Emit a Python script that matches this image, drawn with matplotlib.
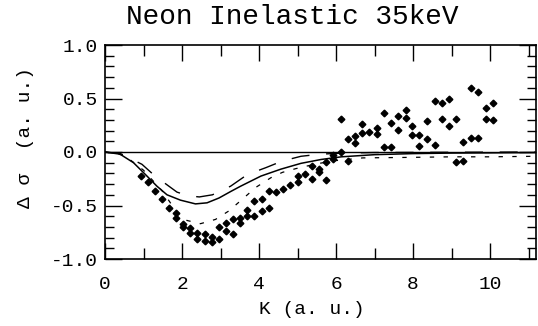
import matplotlib
matplotlib.use("Agg")
import matplotlib.pyplot as plt
from matplotlib.ticker import MultipleLocator

# measured cross section points (K in a.u., delta sigma in a.u.)
k_data = [0.93, 1.11, 1.29, 1.48, 1.66,
          1.85, 1.85, 2.03, 2.03, 2.22, 2.22, 2.40, 2.40, 2.59, 2.59,
          2.77, 2.77, 2.96, 2.96, 3.14, 3.14, 3.33, 3.33, 3.51, 3.51,
          3.70, 3.70, 3.88, 3.88, 4.07, 4.07, 4.25, 4.25, 4.44, 4.62,
          4.81, 5.00, 5.00, 5.19, 5.37, 5.37, 5.56, 5.56, 5.74, 5.74,
          5.93, 5.93, 6.12, 6.12, 6.32, 6.32, 6.49, 6.49, 6.68, 6.68,
          6.86, 7.06, 7.06, 7.25, 7.25, 7.43, 7.43, 7.62, 7.62, 7.81, 7.81,
          7.98, 7.98, 8.16, 8.16, 8.37, 8.37, 8.56, 8.56, 8.75, 8.75,
          8.94, 8.94, 9.12, 9.12, 9.31, 9.31, 9.50, 9.50, 9.68, 9.68,
          9.89, 9.89, 10.07, 10.07]
dsig_data = [-0.22, -0.28, -0.36, -0.44, -0.52,
             -0.57, -0.62, -0.67, -0.70, -0.71, -0.76, -0.76, -0.81, -0.77, -0.835,
             -0.79, -0.84, -0.81, -0.70, -0.66, -0.74, -0.63, -0.77, -0.62, -0.66,
             -0.54, -0.60, -0.46, -0.60, -0.44, -0.55, -0.36, -0.52, -0.375, -0.35,
             -0.31, -0.22, -0.285, -0.21, -0.13, -0.256, -0.156, -0.19, -0.09, -0.26,
             -0.03, -0.065, 0.31, 0.0, 0.12, -0.08, 0.15, 0.08, 0.26, 0.18,
             0.19, 0.22, 0.17, 0.36, 0.05, 0.27, 0.05, 0.34, 0.21, 0.39, 0.32,
             0.245, 0.16, 0.16, 0.055, 0.29, 0.12, 0.48, 0.07, 0.46, 0.31,
             0.495, 0.245, 0.31, -0.09, 0.095, -0.08, 0.60, 0.13, 0.56, 0.13,
             0.41, 0.31, 0.46, 0.30]

# theory curves
k_solid = [0, 0.39, 0.74, 1.09, 1.35, 1.61, 1.96, 2.35, 2.65, 2.96, 3.26,
           3.52, 4.05, 4.57, 5.09, 5.61, 6.14, 7.0, 8.0, 9.0, 10.0, 11.18]
v_solid = [0, -0.02, -0.10, -0.225, -0.32, -0.40, -0.45, -0.485, -0.475, -0.43, -0.37,
           -0.32, -0.225, -0.16, -0.106, -0.07, -0.045, -0.025, -0.015, -0.01, -0.008, -0.005]

k_long = [0, 0.4, 0.96, 1.3, 1.87, 2.17, 2.45, 2.79, 3.26, 3.7, 4.18,
          4.6, 5.09, 5.6, 6.2, 7.0, 11.18]
v_long = [0, -0.015, -0.115, -0.225, -0.375, -0.41, -0.42, -0.40, -0.32, -0.21, -0.146,
          -0.085, -0.04, -0.02, -0.01, -0.005, 0]

k_short = [0, 0.5, 1.0, 1.5, 1.83, 2.13, 2.48, 2.87, 3.22, 3.57, 3.92,
           4.31, 4.61, 4.96, 5.5, 6.0, 6.7, 8.0, 9.0, 10.0, 11.18]
v_short = [0, -0.03, -0.17, -0.37, -0.545, -0.64, -0.67, -0.63, -0.55, -0.44, -0.33,
           -0.24, -0.19, -0.155, -0.11, -0.08, -0.055, -0.05, -0.045, -0.045, -0.04]

xticks = [0, 2, 4, 6, 8, 10]
yticks = [-1.0, -0.5, 0.0, 0.5, 1.0]

plt.rcParams['font.family'] = ['Liberation Mono', 'DejaVu Sans']
plt.rcParams['xtick.direction'] = 'in'
plt.rcParams['ytick.direction'] = 'in'

W, H = 538, 326
fig = plt.figure(figsize=(W / 100, H / 100), dpi=100, facecolor='white')
ax = fig.add_axes([105 / W, 1 - 259 / H, (535.5 - 105) / W, (259 - 45) / H])
ax.patch.set_visible(False)
ax.set_axisbelow(False)

ax.axhline(0, color='black', linewidth=1.0, zorder=1)
ax.plot(k_solid, v_solid, color='black', linewidth=1.1, zorder=1)
ax.plot(k_long, v_long, color='black', linewidth=1.0, dashes=(13, 12), zorder=1)
ax.plot(k_short, v_short, color='black', linewidth=0.9, dashes=(3.5, 7.5), zorder=1)
ax.plot(k_data, dsig_data, linestyle='none', marker='D', markersize=3.4,
        color='black', zorder=1)

ax.set_xlim(0, 11.18)
ax.set_ylim(-1.0, 1.0)
ax.set_xticks(xticks)
ax.set_xticklabels([str(t) for t in xticks])
ax.set_yticks(yticks)
ax.set_yticklabels([f"{t:.1f}" for t in yticks])
ax.xaxis.set_minor_locator(MultipleLocator(1))
ax.yaxis.set_minor_locator(MultipleLocator(0.1))

ax.tick_params(axis='both', which='both', direction='in', color='black',
               labelsize=14)
ax.tick_params(axis='y', which='major', length=12, width=1.0, left=True, right=True, pad=5)
ax.tick_params(axis='y', which='minor', length=6.5, width=1.0, left=True, right=True)
ax.tick_params(axis='x', which='major', length=11.5, width=1.0, bottom=True, top=True, pad=12)
ax.tick_params(axis='x', which='minor', length=8, width=1.0, bottom=True, top=True)
ax.xaxis.set_zorder(10)
ax.yaxis.set_zorder(10)

for s in ax.spines.values():
    s.set_linewidth(1.2)
    s.set_zorder(10)

fig.text(292 / W, 1 - 17 / H, "Neon Inelastic 35keV", ha='center', va='center',
         fontsize=20)
fig.text(312 / W, 1 - 310 / H, "K (a. u.)", ha='center', va='center', fontsize=14)
fig.text(25 / W, 1 - 138 / H, "Δ σ  (a. u.)", ha='center', va='center',
         rotation=90, fontsize=14)

fig.canvas.draw()
fig.savefig("out.png", dpi=100, facecolor='white')
